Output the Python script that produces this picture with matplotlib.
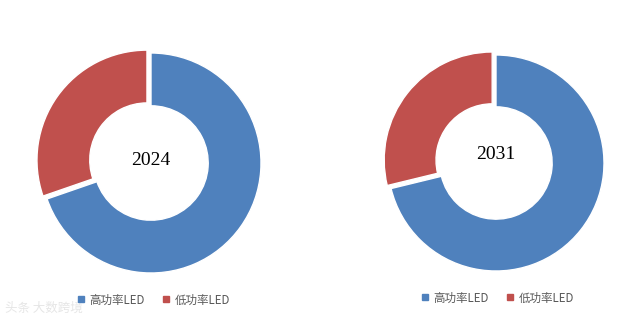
import matplotlib
matplotlib.use("Agg")
import matplotlib.pyplot as plt
from matplotlib.lines import Line2D

plt.rcParams['font.family'] = ['Noto Sans CJK SC', 'DejaVu Sans']

categories = ["高功率LED", "低功率LED"]
years = ["2024", "2031"]
values_2024 = [69.7, 30.3]
values_2031 = [71.2, 28.8]
colors = ["#4F81BD", "#C0504D"]

W, H = 643, 322
fig = plt.figure(figsize=(W / 100, H / 100), dpi=100)

def donut(cx, cy, R, vals, label, label_dy, legend_xy):
    S = 2.2 * R
    ax = fig.add_axes([(cx - S / 2) / W, 1 - (cy + S / 2) / H, S / W, S / H])
    ax.pie(vals, colors=colors, startangle=90, counterclock=False,
           explode=[0, 0.045], radius=1,
           wedgeprops=dict(width=0.48, edgecolor="white", linewidth=1))
    ax.set_xlim(-1.1, 1.1)
    ax.set_ylim(-1.1, 1.1)
    ax.set_aspect("equal")
    ax.axis("off")
    ax.text(0, label_dy, label, ha="center", va="center", fontsize=14,
            family=["Liberation Serif", "DejaVu Serif"], color="black")
    handles = [Line2D([0], [0], marker="s", linestyle="none", markersize=4,
                      markerfacecolor=c, markeredgecolor=c) for c in colors]
    fig.legend(handles, categories, loc="center",
               bbox_to_anchor=(legend_xy[0] / W, 1 - legend_xy[1] / H),
               ncol=2, frameon=False, fontsize=8.3, handlelength=0.8,
               handletextpad=0.3, columnspacing=1.5, labelcolor="#595959")

donut(151, 163, 110, values_2024, years[0], 0.02, (153, 300))
donut(496, 163, 108, values_2031, years[1], 0.08, (497, 298))

fig.text(5 / W, 1 - 308 / H, "头条 大数跨境", fontsize=9, color="#e6e6e6",
         ha="left", va="center")

fig.savefig("out.png", dpi=100, facecolor="white")
